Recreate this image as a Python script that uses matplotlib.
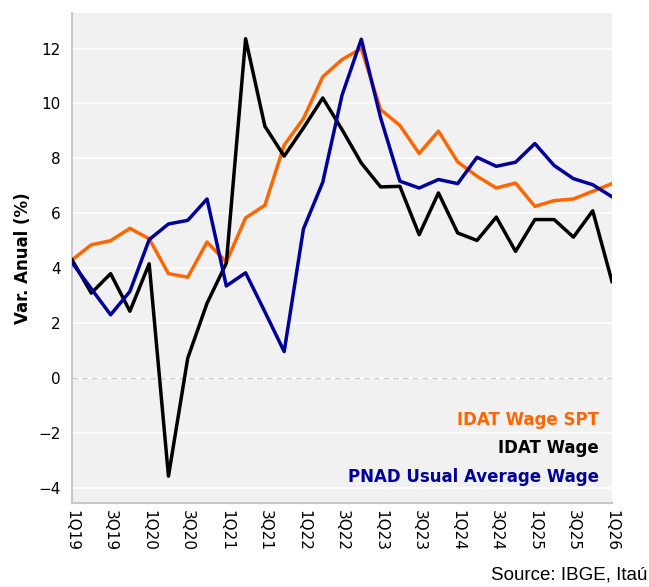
import matplotlib.pyplot as plt

# trimestres 1Q19 .. 1Q26
trimestres = [f"{q}Q{a}" for a in range(19, 27) for q in range(1, 5)][:29]

idat_spt = [4.3, 4.85, 5.0, 5.45, 5.07, 3.8, 3.67, 4.95, 4.22, 5.83, 6.29, 8.48, 9.45,
            10.97, 11.6, 12.0, 9.78, 9.2, 8.18, 8.99, 7.87, 7.35, 6.92, 7.1, 6.25,
            6.46, 6.52, 6.8, 7.08]
idat_wage = [4.3, 3.09, 3.8, 2.43, 4.16, -3.58, 0.72, 2.72, 4.18, 12.36, 9.17, 8.08, 9.11,
             10.2, 9.05, 7.83, 6.96, 6.98, 5.22, 6.74, 5.28, 5.01, 5.86, 4.61, 5.77,
             5.77, 5.13, 6.09, 3.51]
pnad = [4.2, 3.25, 2.3, 3.15, 5.04, 5.61, 5.74, 6.52, 3.35, 3.83, 2.41, 0.96, 5.43,
        7.13, 10.3, 12.34, 9.48, 7.17, 6.92, 7.23, 7.08, 8.04, 7.71, 7.86, 8.54,
        7.74, 7.26, 7.04, 6.6]

LARANJA = '#ff6600'
PRETO = '#000000'
AZUL = '#000099'

fig = plt.figure(figsize=(6.49, 5.87), dpi=100)
ax = fig.add_axes([0.111, 0.143, 0.832, 0.835])
ax.set_facecolor('#f1f1f1')

x = list(range(len(trimestres)))
ax.plot(x, idat_spt, color=LARANJA, lw=2.5, zorder=3)
ax.plot(x, idat_wage, color=PRETO, lw=2.5, zorder=3)
ax.plot(x, pnad, color=AZUL, lw=2.5, zorder=4)

ax.set_xlim(0, 28)
ax.set_ylim(-4.56, 13.3)
ax.set_yticks(range(-4, 13, 2))
ax.set_xticks(x[::2])
ax.set_xticklabels(trimestres[::2], rotation=-90, fontsize=11)
ax.tick_params(axis='y', length=0, pad=8, labelsize=11)
ax.tick_params(axis='x', length=0, pad=5)

ax.grid(axis='y', color='white', lw=1.2, zorder=1)
ax.grid(axis='x', visible=False)
ax.axhline(0, color='#cccccc', lw=1, ls=(0, (4, 3)), zorder=2)

for lado in ['top', 'right']:
    ax.spines[lado].set_visible(False)
for lado in ['left', 'bottom']:
    ax.spines[lado].set_color('#c8c8c8')
    ax.spines[lado].set_linewidth(1.5)

ax.set_ylabel('Var. Anual (%)', fontsize=12, fontweight='bold', labelpad=5)

# rótulos das séries
ax.text(0.975, 0.169, 'IDAT Wage SPT', color=LARANJA, fontsize=12, fontweight='bold',
        ha='right', va='center', transform=ax.transAxes)
ax.text(0.975, 0.112, 'IDAT Wage', color=PRETO, fontsize=12, fontweight='bold',
        ha='right', va='center', transform=ax.transAxes)
ax.text(0.975, 0.053, 'PNAD Usual Average Wage', color=AZUL, fontsize=12, fontweight='bold',
        ha='right', va='center', transform=ax.transAxes)

fig.text(0.997, 0.02, 'Source: IBGE, Itaú', fontsize=13.5, family='Liberation Sans',
         ha='right', va='center')

fig.savefig('out.png', dpi=100)
